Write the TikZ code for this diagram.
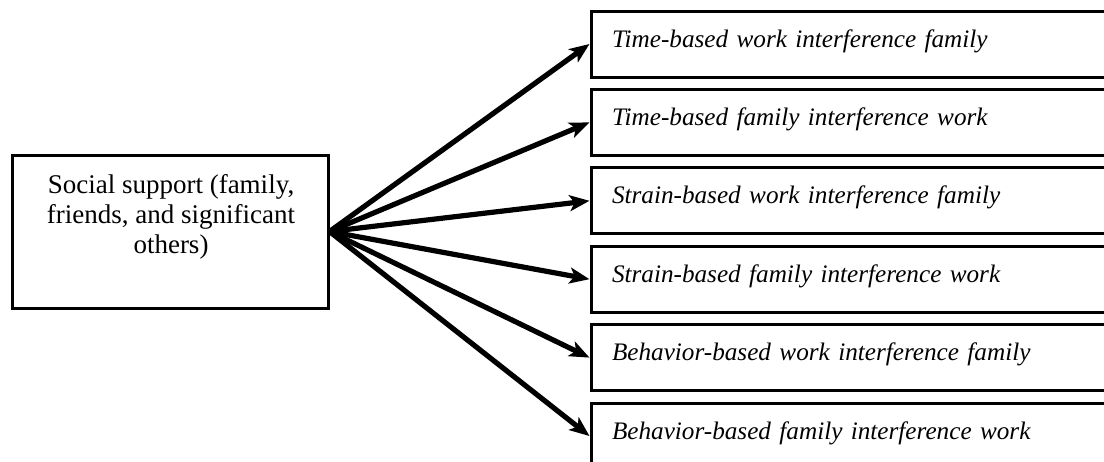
\documentclass[tikz,border=0pt]{standalone}
\usepackage{fontspec}
\setmainfont{Liberation Serif}
\usetikzlibrary{arrows.meta,positioning}

\begin{document}
\begin{tikzpicture}[
    x=0.5pt, y=-0.5pt,
    node distance=4.7pt,
    sourcebox/.style={
      rectangle, draw=black, line width=1.5pt,
      minimum width=158pt, minimum height=76.5pt, inner sep=0pt
    },
    sourcetext/.style={
      align=center, font=\fontsize{13.5pt}{14.9pt}\selectfont, inner sep=0pt
    },
    outcome/.style={
      rectangle, draw=black, line width=1.5pt,
      minimum width=264.5pt, minimum height=33pt,
      text width=243.5pt, align=left, inner xsep=10.5pt, inner ysep=0pt,
      text height=9pt, text depth=6pt,
      font=\fontsize{12.6pt}{14pt}\selectfont\itshape
    },
    arrow/.style={-{Stealth[length=10pt, width=8pt, inset=2.5pt]}, draw=black, line width=2.6pt}
  ]
  \useasboundingbox (0,0) rectangle (1104,461);

  \node[sourcebox] (support) at (170,231.5) {};
  \node[sourcetext] (supporttext) at (171,217) {Social support (family,\\friends, and significant\\others)};

  \node[outcome] (t1) at (855.5,44) {Time-based work interference family};
  \node[outcome, below=of t1] (t2) {Time-based family interference work};
  \node[outcome, below=of t2] (t3) {Strain-based work interference family};
  \node[outcome, below=of t3] (t4) {Strain-based family interference work};
  \node[outcome, below=of t4] (t5) {Behavior-based work interference family};
  \node[outcome, below=of t5] (t6) {Behavior-based family interference work};

  \draw[arrow] (support.east) -- (t1.west);
  \draw[arrow] (support.east) -- (t2.west);
  \draw[arrow] (support.east) -- (t3.west);
  \draw[arrow] (support.east) -- (t4.west);
  \draw[arrow] (support.east) -- (t5.west);
  \draw[arrow] (support.east) -- (t6.west);
\end{tikzpicture}
\end{document}
